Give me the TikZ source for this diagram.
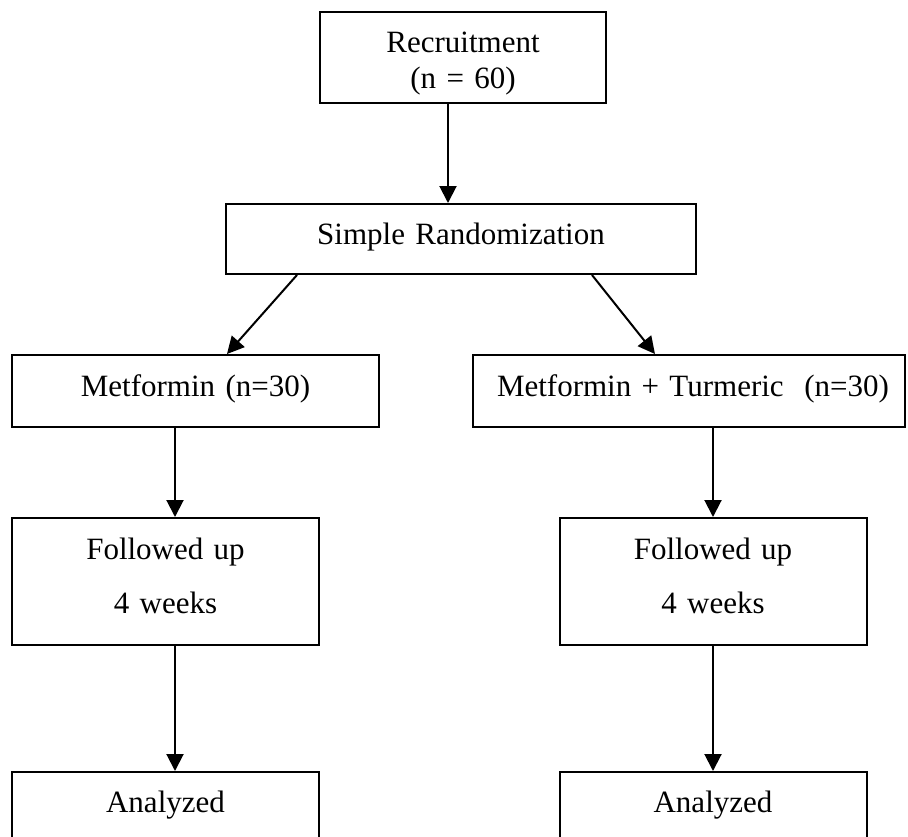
\documentclass[tikz,border=0pt]{standalone}
\usepackage{fontspec}
\setmainfont{Liberation Serif}
\usetikzlibrary{arrows.meta}

\begin{document}
\begin{tikzpicture}[x=1pt,y=-1pt,
	box/.style={draw,line width=2pt,anchor=base,inner xsep=0pt,inner ysep=0pt,align=center,font=\fontsize{31}{36}\selectfont},
	arr/.style={-{Triangle[length=17pt,width=17pt]},line width=2pt}]
	\useasboundingbox (0,0) rectangle (908,836);
	\node[box,text width=286pt,text height=40pt,text depth=51pt] (rec) at (463,52) {Recruitment\\(n = 60)};
	\node[box,text width=470pt,text height=40pt,text depth=30pt] (rand) at (461,244) {Simple Randomization};
	\node[box,text width=367pt,text height=41pt,text depth=31pt] (met) at (195.5,396) {Metformin (n=30)};
	\node[box,text width=432pt,align=left,text height=41pt,text depth=31pt] (mettur) at (689,396) {\hspace*{24pt}Metformin + Turmeric\ \ (n=30)};
	\node[box,text width=307pt,text height=41pt,text depth=86pt] (fol1) at (165.5,559) {Followed up\\[18pt]4 weeks};
	\node[box,text width=307pt,text height=41pt,text depth=86pt] (fol2) at (713,559) {Followed up\\[18pt]4 weeks};
	\node[box,text width=307pt,text height=40pt,text depth=90pt] (ana1) at (165.5,812) {Analyzed};
	\node[box,text width=307pt,text height=40pt,text depth=90pt] (ana2) at (713,812) {Analyzed};
	\path[arr]
	([xshift=-15pt]rec.south) edge ([xshift=-13pt]rand.north)
	([xshift=-164pt]rand.south) edge ([xshift=31.5pt]met.north)
	([xshift=131pt]rand.south) edge ([xshift=-34pt]mettur.north)
	([xshift=-20.5pt]met.south) edge ([xshift=9.5pt]fol1.north)
	([xshift=24pt]mettur.south) edge (fol2.north)
	([xshift=9.5pt]fol1.south) edge ([xshift=9.5pt]ana1.north)
	(fol2.south) edge (ana2.north)
	;
\end{tikzpicture}
\end{document}
